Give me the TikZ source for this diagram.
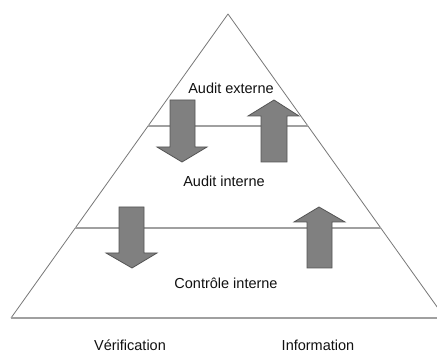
\documentclass[tikz,border=0pt]{standalone}
\usepackage{fontspec}
\setmainfont{Liberation Sans}

\begin{document}
\begin{tikzpicture}[x=1pt,y=1pt]
\definecolor{fillColor}{RGB}{255,255,255}
\definecolor{edgeColor}{RGB}{120,120,120}
\definecolor{levelColor}{RGB}{160,160,160}
\definecolor{arrowFill}{RGB}{128,128,128}
\definecolor{arrowDraw}{RGB}{85,85,85}
\definecolor{drawColor}{RGB}{17,17,17}
\tikzset{
  lbl/.style={text=drawColor,anchor=base,inner sep=0pt,outer sep=0pt,font=\fontsize{14.5}{17}\selectfont},
  bigarrow/.style={fill=arrowFill,draw=arrowDraw,line width=0.8pt,line join=miter}
}
\path[use as bounding box,fill=fillColor] (0,0) rectangle (437,354);
\begin{scope}
\path[clip] (0,0) rectangle (437,354);

\coordinate (apex) at (228,340);
\coordinate (baseL) at (11,36);
\coordinate (baseR) at (445,36);

\path[draw=edgeColor,line width=0.8pt,line join=round] (baseL) -- (apex) -- (baseR);
\path[draw=levelColor,line width=1.4pt] (baseL) -- (437,36);
\path[draw=levelColor,line width=1.4pt] (148,228) -- (308,228);
\path[draw=levelColor,line width=1.4pt] ( 75,126) -- (381,126);

% down, top level
\path[bigarrow] (170,254) -- (195,254) -- (195,207) -- (207,207) --
	(182,192) -- (157,207) -- (170,207) -- cycle;
% up, top level
\path[bigarrow] (261,192) -- (287,192) -- (287,238) -- (299,238) --
	(274,254) -- (248,238) -- (261,238) -- cycle;
% down, lower level
\path[bigarrow] (119,147) -- (144,147) -- (144,101) -- (157,101) --
	(132, 86) -- (106,101) -- (119,101) -- cycle;
% up, lower level
\path[bigarrow] (307, 86) -- (332, 86) -- (332,132) -- (345,132) --
	(319,147) -- (294,132) -- (307,132) -- cycle;
\end{scope}

\node[lbl] (externe) at (231,260) {Audit externe};
\node[lbl] (interne) at (224,167) {Audit interne};
\node[lbl] (controle) at (226, 66) {Contrôle interne};
\node[lbl] (verif) at (130,  3.5) {Vérification};
\node[lbl] (info) at (318,  3.5) {Information};
\end{tikzpicture}
\end{document}
